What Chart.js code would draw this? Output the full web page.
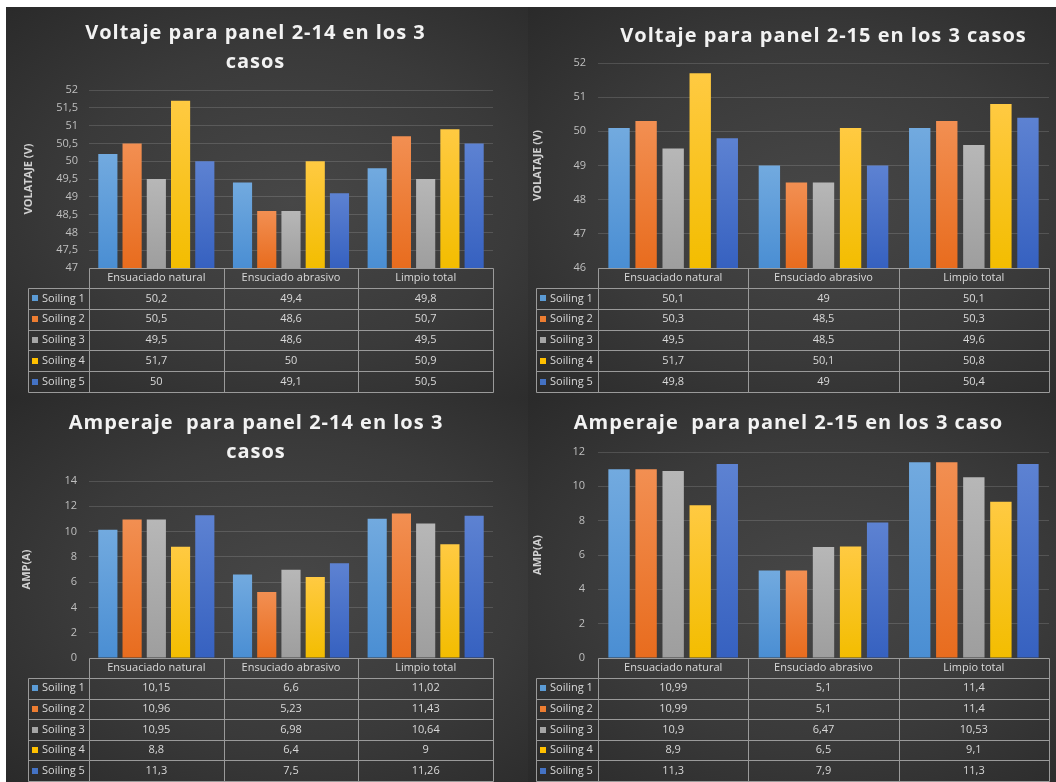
<!DOCTYPE html>
<html>
<head>
<meta charset="utf-8">
<script src="https://cdn.jsdelivr.net/npm/chart.js@4.4.1/dist/chart.umd.min.js"></script>
<style>
    body { margin: 0; background: #fff; overflow: hidden; width: 1056px; height: 782px; position: relative; }
    .panel { position: absolute; background: radial-gradient(ellipse at 55% 50%, #474747 0%, #3a3a3a 55%, #2a2a2a 100%); }
    .panel canvas { display: block; }
</style>
</head>
<body>
<div class="panel" style="left:6px;top:7px;width:522px;height:391px"><canvas id="volt214" width="522" height="391"></canvas></div>
<div class="panel" style="left:528px;top:7px;width:528px;height:391px"><canvas id="volt215" width="528" height="391"></canvas></div>
<div class="panel" style="left:6px;top:398px;width:522px;height:384px"><canvas id="amp214" width="522" height="384"></canvas></div>
<div class="panel" style="left:528px;top:398px;width:528px;height:384px"><canvas id="amp215" width="528" height="384"></canvas></div>
<script>
// Categories and series
const CATEGORIES = ['Ensuaciado natural', 'Ensuciado abrasivo', 'Limpio total'];
const SERIES_NAMES = ['Soiling 1', 'Soiling 2', 'Soiling 3', 'Soiling 4', 'Soiling 5'];

// Voltage, panel 2-14 (one row per series, categories in order)
const VOLT_214_S1 = [50.2, 49.4, 49.8];
const VOLT_214_S2 = [50.5, 48.6, 50.7];
const VOLT_214_S3 = [49.5, 48.6, 49.5];
const VOLT_214_S4 = [51.7, 50, 50.9];
const VOLT_214_S5 = [50, 49.1, 50.5];

// Voltage, panel 2-15
const VOLT_215_S1 = [50.1, 49, 50.1];
const VOLT_215_S2 = [50.3, 48.5, 50.3];
const VOLT_215_S3 = [49.5, 48.5, 49.6];
const VOLT_215_S4 = [51.7, 50.1, 50.8];
const VOLT_215_S5 = [49.8, 49, 50.4];

// Current, panel 2-14
const AMP_214_S1 = [10.15, 6.6, 11.02];
const AMP_214_S2 = [10.96, 5.23, 11.43];
const AMP_214_S3 = [10.95, 6.98, 10.64];
const AMP_214_S4 = [8.8, 6.4, 9];
const AMP_214_S5 = [11.3, 7.5, 11.26];

// Current, panel 2-15
const AMP_215_S1 = [10.99, 5.1, 11.4];
const AMP_215_S2 = [10.99, 5.1, 11.4];
const AMP_215_S3 = [10.9, 6.47, 10.53];
const AMP_215_S4 = [8.9, 6.5, 9.1];
const AMP_215_S5 = [11.3, 7.9, 11.3];

// Y axis ranges: [min, max, step]
const VOLT_214_AXIS = [47, 52, 0.5];
const VOLT_215_AXIS = [46, 52, 1];
const AMP_214_AXIS = [0, 14, 2];
const AMP_215_AXIS = [0, 12, 2];

// Office-like palette (gradient top / bottom, swatch)
const SERIES_TOP = ['#72aadf', '#f28f52', '#b7b7b7', '#ffca42', '#5d82d2'];
const SERIES_BOTTOM = ['#4a8ed3', '#e86c1e', '#9e9e9e', '#f3bd00', '#3661c0'];
const SERIES_BASE = ['#5b9bd5', '#ed7d31', '#a5a5a5', '#ffc000', '#4472c4'];

const FONT = "'Open Sans', 'DejaVu Sans', sans-serif";
const TABLE_LINE = '#9a9a9a';
const TEXT_LIGHT = '#d9d9d9';
const GRID_COLOR = 'rgba(255, 255, 255, 0.14)';

Chart.defaults.font.family = FONT;
Chart.defaults.color = TEXT_LIGHT;

const numFmt = new Intl.NumberFormat('es-ES', { maximumFractionDigits: 2 });

function barFill(i) {
    return (ctx) => {
        const chart = ctx.chart;
        const area = chart.chartArea;
        if (!area || ctx.type !== 'data') return SERIES_BASE[i];
        const yTop = chart.scales.y.getPixelForValue(ctx.raw);
        const g = chart.ctx.createLinearGradient(0, yTop, 0, area.bottom);
        g.addColorStop(0, SERIES_TOP[i]);
        g.addColorStop(1, SERIES_BOTTOM[i]);
        return g;
    };
}

// Spread out the chart title letters a little, like the original
const spacedTitle = {
    id: 'spacedTitle',
    beforeDraw(chart, args, opts) {
        const tb = chart.titleBlock;
        if (!tb || tb._spaced) return;
        const draw = tb.draw.bind(tb);
        tb.draw = function (area) {
            const c = this.ctx;
            const prev = c.letterSpacing;
            c.letterSpacing = opts.spacing;
            draw(area);
            c.letterSpacing = prev;
        };
        tb._spaced = true;
    }
};

// Data table under the plot (rows = series)
const dataTable = {
    id: 'dataTable',
    afterDraw(chart, args, opts) {
        const { ctx, chartArea, scales: { x } } = chart;
        const n = chart.data.labels.length;
        const colW = (chartArea.right - chartArea.left) / n;
        const top = chartArea.bottom;
        const rows = chart.data.datasets.length;
        const bottom = top + opts.headerHeight + opts.rowHeight * rows;
        const px = v => Math.round(v) + 0.5;

        ctx.save();
        ctx.strokeStyle = TABLE_LINE;
        ctx.lineWidth = 1;
        ctx.beginPath();
        ctx.moveTo(px(chartArea.left), px(top));
        ctx.lineTo(px(chartArea.right), px(top));
        for (let r = 0; r <= rows; r++) {
            const y = px(top + opts.headerHeight + r * opts.rowHeight);
            ctx.moveTo(px(opts.legendLeft), y);
            ctx.lineTo(px(chartArea.right), y);
        }
        for (let k = 0; k <= n; k++) {
            const xx = px(chartArea.left + k * colW);
            ctx.moveTo(xx, px(top));
            ctx.lineTo(xx, px(bottom));
        }
        ctx.moveTo(px(opts.legendLeft), px(top + opts.headerHeight));
        ctx.lineTo(px(opts.legendLeft), px(bottom));
        ctx.stroke();

        ctx.font = '11px ' + FONT;
        ctx.textBaseline = 'middle';
        chart.data.datasets.forEach((ds, r) => {
            const yc = top + opts.headerHeight + r * opts.rowHeight + opts.rowHeight / 2;
            ctx.fillStyle = SERIES_BASE[r];
            ctx.fillRect(opts.legendLeft + 4, Math.round(yc) - 3, 6, 6);
            ctx.fillStyle = TEXT_LIGHT;
            ctx.textAlign = 'left';
            ctx.fillText(ds.label, opts.legendLeft + 14, yc);
            ctx.textAlign = 'center';
            ds.data.forEach((v, i) => {
                ctx.fillText(numFmt.format(v), x.getPixelForValue(i), yc);
            });
        });
        ctx.restore();
    }
};

function makeChart(id, cfg) {
    new Chart(document.getElementById(id), {
        type: 'bar',
        data: {
            labels: CATEGORIES,
            datasets: cfg.series.map((data, i) => ({
                label: SERIES_NAMES[i],
                data: data,
                backgroundColor: barFill(i),
                borderWidth: 0,
                categoryPercentage: 0.9,
                barPercentage: 0.79,
            }))
        },
        options: {
            responsive: false,
            animation: false,
            locale: 'es-ES',
            layout: {
                padding: { left: cfg.padLeft, right: cfg.padRight, top: 0, bottom: cfg.padBottom }
            },
            plugins: {
                legend: { display: false },
                tooltip: { enabled: false },
                title: {
                    display: true,
                    text: cfg.title,
                    fullSize: cfg.titleFull,
                    color: '#f2f2f2',
                    font: { size: 20, weight: 'bold', lineHeight: 1.45 },
                    padding: { top: cfg.titleTop, bottom: cfg.titleBottom }
                },
                spacedTitle: { spacing: '1px' },
                dataTable: {
                    legendLeft: cfg.legendLeft,
                    headerHeight: 20,
                    rowHeight: cfg.rowHeight
                }
            },
            scales: {
                x: {
                    grid: { display: false, drawTicks: false },
                    border: { display: false },
                    ticks: { autoSkip: false, maxRotation: 0, padding: 3, color: TEXT_LIGHT, font: { size: 11 } },
                    afterFit: (axis) => { axis.height = 20; }
                },
                y: {
                    min: cfg.axis[0],
                    max: cfg.axis[1],
                    ticks: {
                        stepSize: cfg.axis[2],
                        padding: cfg.tickPad,
                        color: '#bfbfbf',
                        font: { size: 11 },
                        callback: (v) => numFmt.format(v)
                    },
                    grid: { color: GRID_COLOR, drawTicks: false },
                    border: { display: false },
                    title: {
                        display: true,
                        text: cfg.yTitle,
                        color: '#d0d0d0',
                        font: { size: 11, weight: 'bold', lineHeight: 1.2 },
                        padding: { top: cfg.yTitlePad, bottom: 0 }
                    },
                    afterFit: (axis) => { axis.width = cfg.yWidth; }
                }
            }
        },
        plugins: [spacedTitle, dataTable]
    });
}

makeChart('volt214', {
    series: [VOLT_214_S1, VOLT_214_S2, VOLT_214_S3, VOLT_214_S4, VOLT_214_S5],
    axis: VOLT_214_AXIS,
    title: ['Voltaje para panel 2-14 en los 3', 'casos'],
    titleFull: true, titleTop: 12, titleBottom: 13,
    yTitle: 'VOLATAJE (V)', yTitlePad: 4, yWidth: 71, tickPad: 11,
    padLeft: 12, padRight: 35, padBottom: 110,
    legendLeft: 22, rowHeight: 20.8
});

makeChart('volt215', {
    series: [VOLT_215_S1, VOLT_215_S2, VOLT_215_S3, VOLT_215_S4, VOLT_215_S5],
    axis: VOLT_215_AXIS,
    title: 'Voltaje para panel 2-15 en los 3 casos',
    titleFull: false, titleTop: 15, titleBottom: 12,
    yTitle: 'VOLATAJE (V)', yTitlePad: 3, yWidth: 70, tickPad: 12,
    padLeft: 0, padRight: 7, padBottom: 110,
    legendLeft: 8, rowHeight: 20.8
});

makeChart('amp214', {
    series: [AMP_214_S1, AMP_214_S2, AMP_214_S3, AMP_214_S4, AMP_214_S5],
    axis: AMP_214_AXIS,
    title: ['Amperaje  para panel 2-14 en los 3', 'casos'],
    titleFull: true, titleTop: 11, titleBottom: 14,
    yTitle: 'AMP(A)', yTitlePad: 1, yWidth: 70, tickPad: 12,
    padLeft: 13, padRight: 35, padBottom: 104,
    legendLeft: 22, rowHeight: 20.6
});

makeChart('amp215', {
    series: [AMP_215_S1, AMP_215_S2, AMP_215_S3, AMP_215_S4, AMP_215_S5],
    axis: AMP_215_AXIS,
    title: 'Amperaje  para panel 2-15 en los 3 caso',
    titleFull: true, titleTop: 11, titleBottom: 14,
    yTitle: 'AMP(A)', yTitlePad: 3, yWidth: 70, tickPad: 13,
    padLeft: 0, padRight: 7, padBottom: 104,
    legendLeft: 8, rowHeight: 20.6
});
</script>
</body>
</html>
